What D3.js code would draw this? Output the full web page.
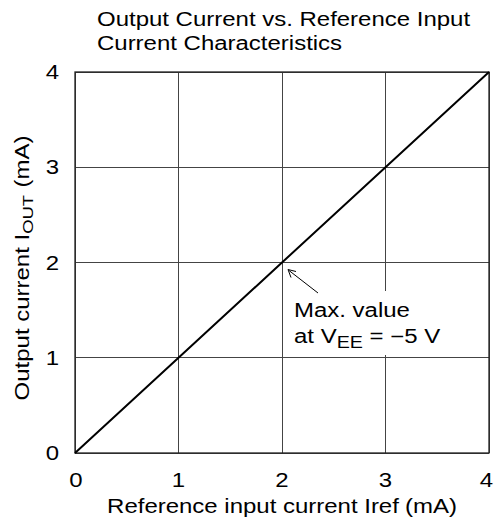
<!DOCTYPE html>
<html><head><meta charset="utf-8">
<script src="https://cdn.jsdelivr.net/npm/d3@7"></script>
<style>body{margin:0;background:#fff}text{font-family:"Liberation Sans",Arial,sans-serif;fill:#000}</style>
</head><body><svg id="c" width="495" height="524"></svg>
<script>
const xTicks = [0, 1, 2, 3, 4];
const yTicks = [0, 1, 2, 3, 4];
const iref = [0, 1, 2, 3, 4];
const iout = [0, 1, 2, 3, 4];
const titleLines = ["Output Current vs. Reference Input", "Current Characteristics"];

const SX = 1.23, FS = 19.5;
const svg = d3.select("#c");
const m = {l: 75, r: 489, t: 72, b: 453};
const x = d3.scaleLinear().domain([0, 4]).range([m.l, m.r]);
const y = d3.scaleLinear().domain([0, 4]).range([m.b, m.t]);

function txt(parent, tx, ty, anchor, rot) {
  return parent.append("text")
    .attr("transform", `translate(${tx},${ty})${rot ? " rotate(" + rot + ")" : ""} scale(${SX},1)`)
    .attr("text-anchor", anchor || "start").attr("font-size", FS);
}

// grid
svg.append("g").selectAll("line").data(xTicks).join("line")
  .attr("x1", d => x(d)).attr("x2", d => x(d)).attr("y1", m.t).attr("y2", m.b)
  .attr("stroke", "#444").attr("stroke-width", 1).attr("shape-rendering", "crispEdges");
svg.append("g").selectAll("line").data(yTicks).join("line")
  .attr("y1", d => y(d)).attr("y2", d => y(d)).attr("x1", m.l).attr("x2", m.r)
  .attr("stroke", "#444").attr("stroke-width", 1).attr("shape-rendering", "crispEdges");

// frame
svg.append("rect").attr("x", m.l).attr("y", m.t).attr("width", m.r - m.l).attr("height", m.b - m.t)
  .attr("fill", "none").attr("stroke", "#222").attr("stroke-width", 1.3);

// data line
const line = d3.line().x((d, i) => x(iref[i])).y(d => y(d));
svg.append("path").datum(iout).attr("d", line).attr("fill", "none")
  .attr("stroke", "#000").attr("stroke-width", 2);

// tick labels
xTicks.forEach((d, i) => txt(svg, x(d) + (i === 0 ? 1 : i === xTicks.length - 1 ? -2.5 : 0), 487, "middle").text(d));
yTicks.forEach(d => txt(svg, 59, y(d) + 7, "end").text(d));

// title
titleLines.forEach((d, i) => txt(svg, 97, 25.5 + i * 24.5, "start").text(d));

// x axis title
const xt = txt(svg, 282, 513, "middle");
xt.append("tspan").text("Reference input current Iref");
xt.append("tspan").attr("dx", 5).text("(mA)");

// y axis title
const yt = txt(svg, 29, 268, "middle", -90);
yt.append("tspan").text("Output current I");
yt.append("tspan").attr("font-size", 15).attr("dy", 4).text("OUT");
yt.append("tspan").attr("dy", -4).attr("dx", 6).text("(mA)");

// annotation
svg.append("rect").attr("x", 292).attr("y", 291).attr("width", 172).attr("height", 64).attr("fill", "#fff");
svg.append("line").attr("x1", 318).attr("y1", 293).attr("x2", x(2) + 7).attr("y2", y(2) + 8)
  .attr("stroke", "#000").attr("stroke-width", 1);
const ax = x(2) + 6, ay = y(2) + 7;
svg.append("path").attr("d", `M${ax + 8},${ay + 2} L${ax},${ay} L${ax + 3},${ay + 8}`)
  .attr("fill", "none").attr("stroke", "#000").attr("stroke-width", 1);
txt(svg, 294, 317, "start").text("Max. value");
const at = txt(svg, 294, 343, "start");
at.append("tspan").text("at V");
at.append("tspan").attr("font-size", 16).attr("dy", 5).text("EE");
at.append("tspan").attr("dy", -5).text(" = \u22125 V");
</script></body></html>
